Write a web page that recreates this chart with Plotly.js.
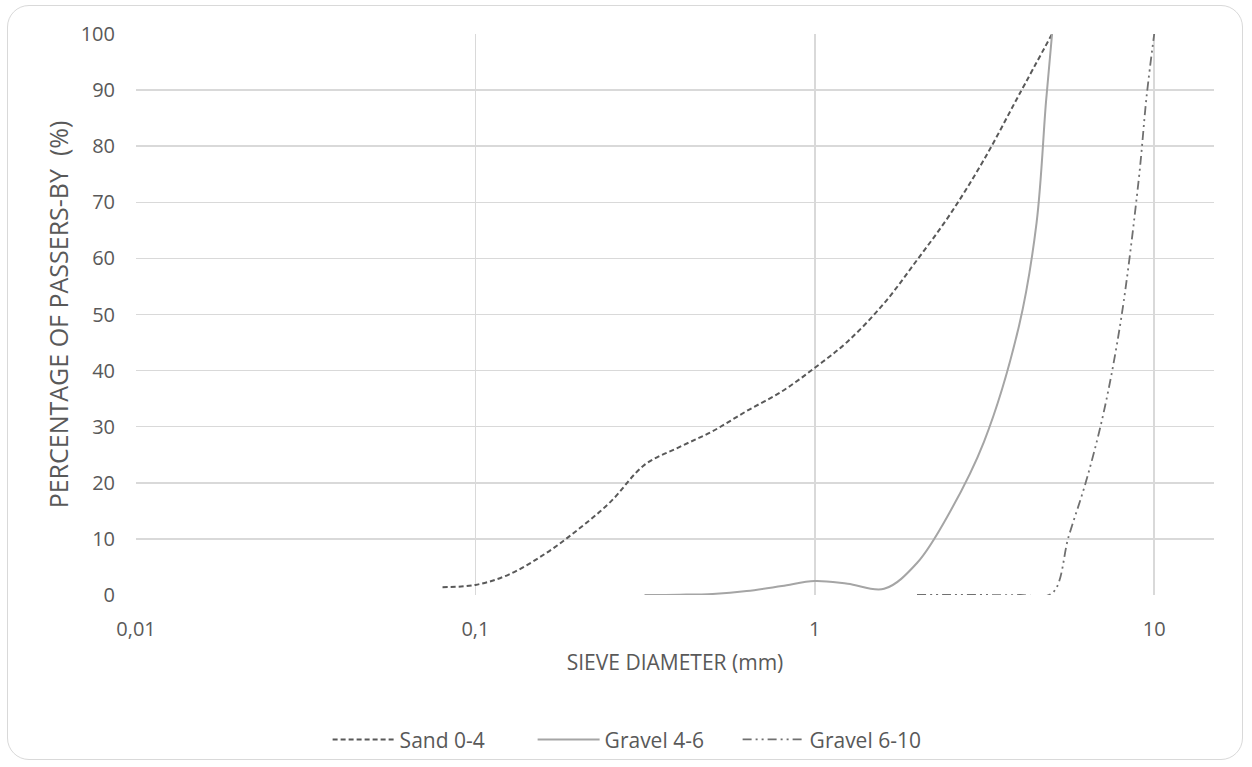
<!DOCTYPE html>
<html>
<head>
<meta charset="utf-8">
<script src="https://cdn.plot.ly/plotly-3.0.1.min.js"></script>
<style>
  html, body { margin: 0; padding: 0; background: #ffffff; }
  #wrap { position: relative; width: 1252px; height: 767px; }
  #chart { position: absolute; left: 0; top: 0; width: 1252px; height: 767px; }
  #frame { position: absolute; left: 7px; top: 5px; width: 1236px; height: 755px;
           border: 1.5px solid #d9d9d9; border-radius: 22px; pointer-events: none; box-sizing: border-box; }
</style>
</head>
<body>
<div id="wrap">
  <div id="chart"></div>
  <div id="frame"></div>
</div>
<script>
// Sieve diameters (mm) and passing percentages
const sandX = [0.08, 0.1, 0.125, 0.16, 0.2, 0.25, 0.315, 0.4, 0.5, 0.63, 0.8, 1, 1.25, 1.6, 2, 2.5, 3.15, 4, 5];
const sandY = [1.4, 1.8, 3.6, 7.3, 11.6, 16.6, 23.2, 26.4, 29.2, 32.8, 36.3, 40.5, 45.2, 52, 59.7, 67.8, 77.6, 89.2, 100];

const gravel46X = [0.315, 0.4, 0.5, 0.63, 0.8, 1, 1.25, 1.6, 2, 2.5, 3.15, 4, 4.5, 4.8, 5];
const gravel46Y = [0, 0.05, 0.2, 0.7, 1.6, 2.5, 2.0, 1.1, 5.7, 14.8, 27.3, 48.1, 66.3, 88, 100];

const gravel610X = [2, 2.5, 3.15, 4, 5, 5.6, 6.3, 7.1, 8, 9, 9.5, 10];
const gravel610Y = [0, 0, 0, 0, 0.3, 10.5, 20.3, 32.6, 49.5, 74, 89, 100];

const seriesNames = ["Sand 0-4", "Gravel 4-6", "Gravel 6-10"];
const xTickVals = [0.01, 0.1, 1, 10];
const xTickText = ["0,01", "0,1", "1", "10"];
const yTickVals = [0, 10, 20, 30, 40, 50, 60, 70, 80, 90, 100];

const FONT = "Open Sans, Liberation Sans, sans-serif";
const TXT = "#595959";

const traces = [
  { x: sandX, y: sandY, name: seriesNames[0], type: "scatter", mode: "lines",
    line: { color: "#595959", width: 2, dash: "5px,3px", shape: "spline", smoothing: 1 } },
  { x: gravel46X, y: gravel46Y, name: seriesNames[1], type: "scatter", mode: "lines",
    line: { color: "#a5a5a5", width: 2, shape: "spline", smoothing: 1 } },
  { x: gravel610X, y: gravel610Y, name: seriesNames[2], type: "scatter", mode: "lines",
    line: { color: "#707070", width: 1.8, dash: "9px,4px,2px,4px,2px,4px", shape: "spline", smoothing: 1 } }
];

const layout = {
  width: 1252, height: 767,
  margin: { l: 136, r: 38, t: 34, b: 172, autoexpand: false },
  paper_bgcolor: "#ffffff", plot_bgcolor: "#ffffff",
  font: { family: FONT, color: TXT, size: 20 },
  showlegend: true,
  legend: { orientation: "h", x: 0.463, xanchor: "center", y: -0.258, yanchor: "middle",
            font: { family: FONT, size: 21, color: TXT }, itemwidth: 62,
            entrywidth: 128, entrywidthmode: "pixels", traceorder: "normal" },
  xaxis: {
    type: "log", range: [-2, Math.log10(15)], automargin: false,
    tickvals: xTickVals, ticktext: xTickText,
    showgrid: true, gridcolor: "#d9d9d9", gridwidth: 1.5,
    zeroline: false, showline: false, ticks: "",
    ticklabelstandoff: 20,
    tickfont: { family: FONT, size: 20, color: TXT },
    title: { text: "SIEVE DIAMETER (mm)", font: { family: FONT, size: 21, color: TXT }, standoff: 14 }
  },
  yaxis: {
    range: [0, 100], tickvals: yTickVals, automargin: false,
    showgrid: true, gridcolor: "#d9d9d9", gridwidth: 1.5,
    zeroline: false, showline: false, ticks: "",
    ticklabelstandoff: 20,
    tickfont: { family: FONT, size: 20, color: TXT },
    title: { text: "PERCENTAGE OF PASSERS-BY  (%)", font: { family: FONT, size: 25, color: TXT }, standoff: 4 }
  }
};

Plotly.newPlot("chart", traces, layout, { displayModeBar: false, staticPlot: true });
</script>
</body>
</html>
